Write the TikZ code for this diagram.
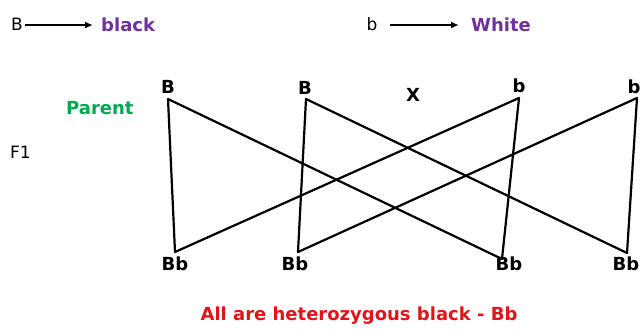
\documentclass[tikz,border=0pt]{standalone}
\usepackage{fontspec}
\setmainfont{DejaVu Sans}
\usetikzlibrary{arrows.meta}
\definecolor{purp}{RGB}{112,48,160}
\definecolor{grn}{RGB}{0,170,80}
\definecolor{redd}{RGB}{225,20,25}
\begin{document}
\begin{tikzpicture}[x=1pt,y=-1pt,
  reg/.style={font=\fontsize{17}{19}\selectfont, inner sep=0pt},
  bld/.style={font=\fontsize{18}{20}\selectfont\bfseries, inner sep=0pt},
  cross/.style={line width=2.2pt, line cap=round},
  arr/.style={line width=1.6pt, -{Latex[length=8pt,width=7pt]}}]
\useasboundingbox (0,0) rectangle (641,329);
% legend
\node[reg] (gB) at (17,24) {B};
\node[bld, text=purp, anchor=west] (black) at (101,25) {black};
\coordinate (aB1) at (25,25);
\coordinate (aB2) at (93,25);
\draw[arr] (aB1) -- (aB2);
\node[reg] (gb) at (372,24) {b};
\node[bld, text=purp, anchor=west] (white) at (471,25) {White};
\coordinate (ab1) at (390,25);
\coordinate (ab2) at (459,25);
\draw[arr] (ab1) -- (ab2);
% labels
\node[bld, text=grn, anchor=west] (parent) at (66,108) {Parent};
\node[reg, anchor=west] (f1) at (10,152) {F1};
\node[bld] (X) at (413,95) {X};
% parents
\node[bld] (B1) at (168,87) {B};
\node[bld] (B2) at (305,88) {B};
\node[bld] (b1) at (519,86) {b};
\node[bld] (b2) at (634,87) {b};
\coordinate (vB1) at (168,99);
\coordinate (vB2) at (306,99);
\coordinate (vb1) at (519,98);
\coordinate (vb2) at (637,98);
% offspring
\node[bld] (o1) at (175,264) {Bb};
\node[bld] (o2) at (295,264) {Bb};
\node[bld] (o3) at (509,264) {Bb};
\node[bld] (o4) at (626,264) {Bb};
\coordinate (w1) at (175,252);
\coordinate (w2) at (298,252);
\coordinate (w3) at (502,259);
\coordinate (w4) at (627,253);
\draw[cross] (vB1) -- (w1);
\draw[cross] (vB1) -- (w3);
\draw[cross] (vB2) -- (w2);
\draw[cross] (vB2) -- (w4);
\draw[cross] (vb1) -- (w1);
\draw[cross] (vb1) -- (w3);
\draw[cross] (vb2) -- (w2);
\draw[cross] (vb2) -- (w4);
\node[bld, text=redd] (res) at (359,316) {All are heterozygous black - Bb};
\end{tikzpicture}
\end{document}
